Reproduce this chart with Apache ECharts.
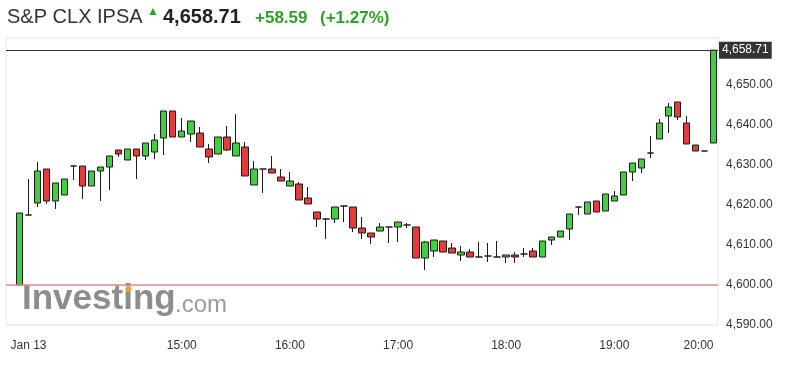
<!DOCTYPE html>
<html><head><meta charset="utf-8">
<script src="https://cdn.jsdelivr.net/npm/echarts@6/dist/echarts.min.js"></script>
<style>html,body{margin:0;padding:0;background:#fff}#c{width:791px;height:369px}</style>
</head><body><div id="c"></div>
<script>
const instrumentName = 'S&P CLX IPSA';
const lastPriceText = '4,658.71';
const lastPrice = 4658.71;
const changeAbs = '+58.59';
const changePct = '(+1.27%)';
const prevClose = 4600;

// first category is an empty leading slot
const timeCategories = ['13:25','13:30','13:35','13:40','13:45','13:50','13:55',
 '14:00','14:05','14:10','14:15','14:20','14:25','14:30','14:35','14:40','14:45','14:50','14:55',
 '15:00','15:05','15:10','15:15','15:20','15:25','15:30','15:35','15:40','15:45','15:50','15:55',
 '16:00','16:05','16:10','16:15','16:20','16:25','16:30','16:35','16:40','16:45','16:50','16:55',
 '17:00','17:05','17:10','17:15','17:20','17:25','17:30','17:35','17:40','17:45','17:50','17:55',
 '18:00','18:05','18:10','18:15','18:20','18:25','18:30','18:35','18:40','18:45','18:50','18:55',
 '19:00','19:05','19:10','19:15','19:20','19:25','19:30','19:35','19:40','19:45','19:50','19:55'];

const opens = [null,
 4600,4617.5,4620.5,4629,4621,4622.5,4629.75,4629.75,4624.75,4628.5,4629.5,4633.75,4631.25,4634,4632.25,4633.25,
 4636.75,4643.5,4637,4637.75,4638,4634,4632.75,4637,4632.25,4634.5,4625,4629,4629,4627,4624.75,4625.25,
 4621.75,4618.25,4616.5,4616.5,4619.75,4619.5,4614.25,4613,4613.5,4614.5,4614.5,4615,4614.5,4606.75,4608.5,4611,
 4609.25,4607.5,4608.25,4607,4607.25,4607,4607,4607.5,4607.75,4608.5,4607,4611.25,4612,4614,4619.5,4617.75,
 4621,4618.5,4621,4622.5,4628.25,4629.25,4633,4636.5,4642.25,4645.75,4640.5,4635,4633.5,4635.5];
const closes = [null,
 4618,4617.5,4628.5,4621,4625.5,4626.5,4629.75,4624.75,4628.5,4629.5,4632.25,4632.75,4634,4632.25,4635.5,4636.25,
 4643.5,4637,4638.5,4641,4634.5,4632,4637,4633.75,4635.5,4627.25,4629,4629,4628,4626,4626,4621.25,
 4620.25,4616.5,4616.5,4619.5,4619.75,4614.25,4613,4612,4614.5,4614.5,4615.75,4615,4606.75,4610.75,4611.25,4608.25,
 4608,4608.25,4607,4607,4607.25,4607,4607.5,4607,4607.75,4607,4611,4612,4613.5,4617.75,4619.5,4620.75,
 4618.25,4622.75,4622.25,4628.25,4630.5,4631.5,4633,4640.5,4644.5,4642,4635.25,4633.5,4633.5,4658.71];
const lows = [null,
 4600,4617.5,4619.5,4620.25,4619,4622.5,4626.25,4621.5,4624.75,4621,4623.75,4632,4631.25,4626.5,4631.25,4631.5,
 4632.5,4637,4637,4635.75,4634.5,4630.5,4632.75,4633.5,4632.25,4627.25,4625,4623,4628,4626,4624.75,4621.25,
 4620.25,4614.5,4611.5,4615.5,4615.75,4613.25,4611.5,4610.25,4613.5,4610.5,4610.75,4614.25,4606.75,4603.75,4607,4608.25,
 4608,4606,4607,4607,4605.75,4607,4605.5,4605.5,4607,4607,4607,4610,4612,4611.25,4617.5,4617.75,
 4618.25,4618.5,4621,4622.5,4626,4628,4631.75,4636.5,4638,4641.25,4635.25,4633.5,4633.5,4635.5];
const highs = [null,
 4618,4626.5,4630.75,4629,4625.5,4626.5,4629.75,4629.75,4628.5,4629.5,4632.25,4633.75,4634,4634,4635.5,4637.75,
 4643.5,4643.5,4641.75,4641,4639.5,4635.25,4637,4639.75,4642.75,4635.75,4631,4629,4632.25,4629,4628.25,4625.75,
 4624.5,4618.25,4616.75,4619.5,4619.75,4619.5,4617,4613,4615.5,4614.5,4615.75,4615.5,4614.5,4611,4611.25,4611,
 4610.5,4609.75,4609,4610.75,4610.5,4611,4607.5,4608.25,4609.25,4609.25,4611,4612,4613.5,4617.75,4619.5,4620.75,
 4621,4622.75,4623.5,4628.25,4630.5,4631.5,4637.25,4641.5,4645.5,4645.75,4642.25,4635,4633.5,4658.71];

const xTickCategories = ['13:25','15:00','16:00','17:00','18:00','19:00','19:55'];
const xTickLabels = ['Jan 13','15:00','16:00','17:00','18:00','19:00','20:00'];
const yTicks = [4590,4600,4610,4620,4630,4640,4650];

const candles = timeCategories.map((t, i) =>
  opens[i] == null ? '-' : [opens[i], closes[i], lows[i], highs[i]]);

const FONT = 'Arial, "Liberation Sans", sans-serif';
const GREEN = '#2f9e2a';

const chart = echarts.init(document.getElementById('c'), null, {renderer: 'canvas'});
chart.setOption({
  animation: false,
  backgroundColor: '#fff',
  textStyle: {fontFamily: FONT},
  grid: {left: 6, right: 73, top: 38, bottom: 44, show: true, borderColor: '#e2e2e2', borderWidth: 1},
  xAxis: {
    type: 'category', data: timeCategories, boundaryGap: true,
    axisLine: {show: false}, axisTick: {show: false}, splitLine: {show: false},
    axisLabel: {
      interval: (i, v) => xTickCategories.includes(v),
      formatter: v => xTickLabels[xTickCategories.indexOf(v)],
      showMinLabel: true, showMaxLabel: true,
      alignMinLabel: 'left', alignMaxLabel: 'right',
      margin: 15, fontSize: 12, color: '#333', fontFamily: FONT
    }
  },
  yAxis: {
    type: 'value', position: 'right', min: 4590, max: 4661.75, interval: 10, scale: true,
    axisLine: {show: false}, axisTick: {show: false}, splitLine: {show: false},
    axisLabel: {
      formatter: v => yTicks.includes(v) ? v.toLocaleString('en-US', {minimumFractionDigits: 2, maximumFractionDigits: 2}) : '',
      margin: 8, fontSize: 12, color: '#333', fontFamily: FONT
    }
  },
  series: [{
    type: 'candlestick',
    data: candles,
    barWidth: 7,
    itemStyle: {
      color: '#3fcf3f', color0: '#e53b3b',
      borderColor: '#1c1c1c', borderColor0: '#1c1c1c', borderColorDoji: '#1c1c1c',
      borderWidth: 1
    },
    markLine: {
      silent: true, symbol: 'none', animation: false,
      data: [
        {yAxis: lastPrice, lineStyle: {color: '#333', width: 1, type: 'solid'},
         label: {show: true, position: 'end', formatter: lastPriceText, distance: 1,
                 backgroundColor: '#333', color: '#fff', padding: [3, 3, 2, 3], fontSize: 12, fontFamily: FONT}},
        {yAxis: prevClose, lineStyle: {color: '#e08a8a', width: 1.5, type: 'solid'}, label: {show: false}}
      ]
    }
  }],
  graphic: [
    {type: 'text', left: 7, top: 7, style: {text: instrumentName, font: '20px ' + FONT, fill: '#333'}},
    {type: 'text', left: 147, top: 6, style: {text: '▲', font: '12px ' + FONT, fill: GREEN}},
    {type: 'text', left: 163, top: 7, style: {text: lastPriceText, font: 'bold 20px ' + FONT, fill: '#222'}},
    {type: 'text', left: 255, top: 10, style: {text: changeAbs, font: 'bold 17px ' + FONT, fill: GREEN}},
    {type: 'text', left: 320, top: 10, style: {text: changePct, font: 'bold 17px ' + FONT, fill: GREEN}},
    {type: 'text', left: 22, top: 282, z: -1, style: {text: 'Investing', font: 'bold 35px ' + FONT, fill: '#8d8d8d'}},
    {type: 'circle', shape: {cx: 128.5, cy: 289, r: 3}, z: -1, style: {fill: '#f0a040'}},
    {type: 'text', left: 175, top: 293, z: -1, style: {text: '.com', font: '24px ' + FONT, fill: '#9a9a9a'}}
  ]
});
</script></body></html>
